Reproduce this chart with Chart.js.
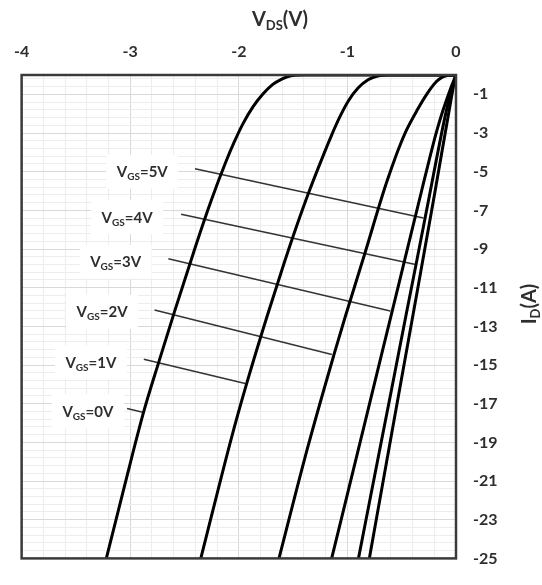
<!DOCTYPE html>
<html>
<head>
<meta charset="utf-8">
<script src="https://cdn.jsdelivr.net/npm/chart.js@4.4.1/dist/chart.umd.min.js"></script>
<style>
  html, body { margin: 0; padding: 0; background: #fff; }
</style>
</head>
<body>
<canvas id="chart" width="542" height="585"></canvas>
<script>
// Gate voltage of each output curve
const gateVoltages = [0, 1, 2, 3, 4, 5];

// Drain-source voltage (V) and drain current (A) along each curve
const vdsVgs0 = [0, -1.40, -1.53, -1.60, -1.69, -1.78, -1.87, -1.96, -2.045, -2.12, -2.255, -2.395, -2.59, -2.74, -2.875, -3.05, -3.22];
const idVgs0 = [0, 0, -0.05, -0.2, -0.5, -1.0, -1.65, -2.5, -3.5, -4.5, -6.5, -8.8, -12.2, -14.9, -17.4, -21.2, -25];

const vdsVgs1 = [0, -0.62, -0.70, -0.76, -0.81, -0.90, -0.99, -1.07, -1.15, -1.211, -1.351, -1.473, -1.584, -1.741, -1.93, -2.067, -2.35];
const idVgs1 = [0, 0, -0.03, -0.12, -0.25, -0.66, -1.33, -2.17, -3.17, -4.0, -6.0, -7.9, -9.75, -12.5, -16.0, -18.75, -25];

const vdsVgs2 = [0, -0.08, -0.13, -0.18, -0.27, -0.36, -0.455, -0.53, -0.595, -0.665, -0.846, -1.02, -1.123, -1.365, -1.63];
const idVgs2 = [0, -0.03, -0.12, -0.34, -1.0, -1.84, -2.84, -3.84, -4.84, -6.0, -9.35, -12.5, -14.45, -19.25, -25];

const vdsVgs3 = [0, -0.018, -0.053, -0.085, -0.130, -0.170, -0.218, -0.317, -0.459, -0.600, -0.742, -0.894, -1.145];
const idVgs3 = [0, -0.25, -0.75, -1.25, -2.0, -2.75, -3.75, -6.0, -9.25, -12.5, -15.75, -19.25, -25];

const vdsVgs4 = [0, -0.027, -0.064, -0.114, -0.245, -0.368, -0.463, -0.593, -0.698, -0.898];
const idVgs4 = [0, -0.5, -1.25, -2.5, -6.25, -9.8, -12.5, -16.25, -19.25, -25];

const vdsVgs5 = [0, -0.02, -0.045, -0.2, -0.399, -0.615, -0.798];
const idVgs5 = [0, -0.5, -1.25, -6.25, -12.5, -19.25, -25];

// Tick labels
const vdsTickLabels = [-4, -3, -2, -1, 0];
const idTickLabels = [-1, -3, -5, -7, -9, -11, -13, -15, -17, -19, -21, -23, -25];

// Callout text anchors and leader lines (V, A), ordered VGS = 0..5
const calloutVds = [-3.39, -3.362, -3.259, -3.134, -3.029, -2.889];
const calloutId = [-17.4, -14.85, -12.25, -9.65, -7.35, -5.0];
const leaderFromVds = [-3.029, -2.875, -2.776, -2.649, -2.531, -2.404];
const leaderFromId = [-17.25, -14.7, -12.15, -9.5, -7.2, -4.85];
const leaderToVds = [-2.875, -1.941, -1.143, -0.605, -0.372, -0.30];
const leaderToId = [-17.45, -15.95, -14.45, -12.2, -9.8, -7.4];

const curveVds = [vdsVgs0, vdsVgs1, vdsVgs2, vdsVgs3, vdsVgs4, vdsVgs5];
const curveId = [idVgs0, idVgs1, idVgs2, idVgs3, idVgs4, idVgs5];

const FONT = 'Lato, "Open Sans", sans-serif';
const TEXT = '#2e2e2e';
const MAJOR_GRID = '#d9d9d9';
const MINOR_GRID = '#ededed';

Chart.defaults.font.family = FONT;

// minor gridlines every fifth of a labelled step
function gridTicks(min, step, count) {
  const out = [];
  for (let i = 0; i <= count; i++) {
    out.push({ value: Math.round((min + i * step) * 100) / 100, major: i % 5 === 0 });
  }
  return out;
}

// draws text with subscript pieces, centred on cx
function drawRichText(ctx, parts, cx, baseline, size, subSize) {
  let total = 0;
  parts.forEach(p => {
    ctx.font = 'bold ' + (p.sub ? subSize : size) + 'px ' + FONT;
    p.w = ctx.measureText(p.t).width;
    total += p.w;
  });
  let x = cx - total / 2;
  parts.forEach(p => {
    ctx.font = 'bold ' + (p.sub ? subSize : size) + 'px ' + FONT;
    ctx.fillText(p.t, x, baseline + (p.sub ? size * 0.2 : 0));
    x += p.w;
  });
  return total;
}

const calloutPlugin = {
  id: 'callouts',
  beforeDatasetsDraw(chart) {
    const { ctx, scales: { x, y } } = chart;
    ctx.save();
    ctx.textAlign = 'left';
    ctx.textBaseline = 'alphabetic';
    gateVoltages.forEach((g, i) => {
      const px = x.getPixelForValue(calloutVds[i]);
      const py = y.getPixelForValue(calloutId[i]);
      ctx.fillStyle = '#ffffff';
      ctx.fillRect(px - 36, py - 17, 72, 34);
      ctx.fillStyle = TEXT;
      drawRichText(ctx, [{ t: 'V' }, { t: 'GS', sub: true }, { t: '=' + g + 'V' }], px, py + 5.5, 15, 10);
    });
    ctx.restore();
  },
  afterDatasetsDraw(chart) {
    const { ctx, chartArea: a } = chart;
    ctx.save();
    ctx.strokeStyle = '#3a3a3a';
    ctx.lineWidth = 2.5;
    ctx.strokeRect(a.left, a.top, a.right - a.left, a.bottom - a.top);

    ctx.fillStyle = TEXT;
    ctx.textAlign = 'left';
    ctx.textBaseline = 'alphabetic';
    drawRichText(ctx, [{ t: 'V' }, { t: 'DS', sub: true }, { t: '(V)' }], 280, 26, 20, 13);

    ctx.translate(529, 304);
    ctx.rotate(-Math.PI / 2);
    drawRichText(ctx, [{ t: 'I' }, { t: 'D', sub: true }, { t: '(A)' }], 0, 7, 20, 13);
    ctx.restore();
  }
};

const curveSets = gateVoltages.map((g, i) => ({
  label: 'VGS=' + g + 'V',
  data: curveVds[i].map((v, j) => ({ x: v, y: curveId[i][j] })),
  showLine: true,
  borderColor: '#000000',
  borderWidth: 3,
  pointRadius: 0,
  cubicInterpolationMode: 'monotone'
}));

const leaderSets = gateVoltages.map((g, i) => ({
  label: 'leader ' + g,
  data: [
    { x: leaderFromVds[i], y: leaderFromId[i] },
    { x: leaderToVds[i], y: leaderToId[i] }
  ],
  showLine: true,
  borderColor: '#333333',
  borderWidth: 1.5,
  pointRadius: 0
}));

new Chart(document.getElementById('chart'), {
  type: 'scatter',
  data: { datasets: [...curveSets, ...leaderSets] },
  options: {
    responsive: false,
    animation: false,
    layout: { padding: { left: 15, right: 0, top: 0, bottom: 10 } },
    plugins: { legend: { display: false }, tooltip: { enabled: false } },
    scales: {
      x: {
        type: 'linear',
        position: 'top',
        min: -4,
        max: 0,
        afterBuildTicks: s => { s.ticks = gridTicks(-4, 0.2, 20); },
        afterFit: s => { s.height = 75; },
        border: { display: false },
        grid: {
          drawTicks: false,
          color: c => (c.tick && c.tick.major ? MAJOR_GRID : MINOR_GRID)
        },
        ticks: {
          autoSkip: false,
          maxRotation: 0,
          padding: 14,
          color: TEXT,
          font: { size: 16, weight: 'bold' },
          callback: v => (vdsTickLabels.includes(Math.round(v * 100) / 100) ? String(Math.round(v)) : '')
        }
      },
      y: {
        type: 'linear',
        position: 'right',
        min: -25,
        max: 0,
        afterBuildTicks: s => {
          const t = gridTicks(-25, 0.4, 62);
          t.push({ value: 0, major: false });
          s.ticks = t;
        },
        afterFit: s => { s.width = 86; },
        border: { display: false },
        grid: {
          drawTicks: false,
          color: c => (c.tick && c.tick.major ? MAJOR_GRID : MINOR_GRID)
        },
        ticks: {
          autoSkip: false,
          padding: 17,
          color: TEXT,
          font: { size: 16, weight: 'bold' },
          callback: v => (idTickLabels.includes(Math.round(v * 100) / 100) ? String(Math.round(v)) : '')
        }
      }
    }
  },
  plugins: [calloutPlugin]
});
</script>
</body>
</html>
